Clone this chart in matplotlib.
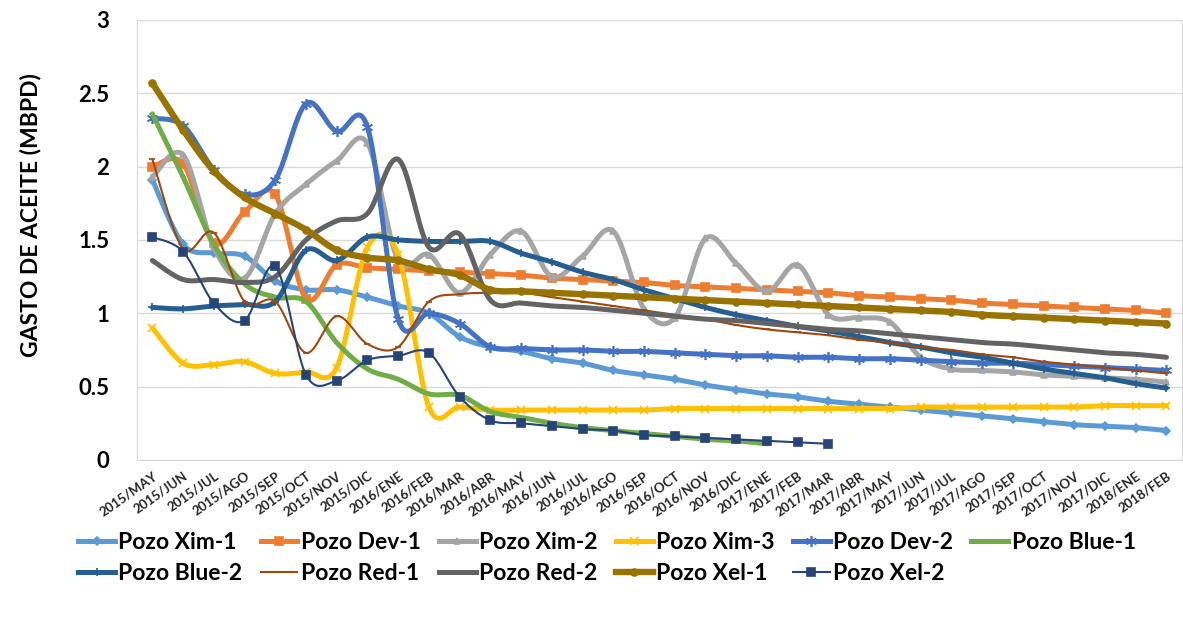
import numpy as np
import matplotlib.pyplot as plt
from matplotlib.lines import Line2D

plt.rcParams['font.family'] = ['Lato', 'DejaVu Sans']

meses = ['2015/MAY', '2015/JUN', '2015/JUL', '2015/AGO', '2015/SEP', '2015/OCT',
         '2015/NOV', '2015/DIC', '2016/ENE', '2016/FEB', '2016/MAR', '2016/ABR',
         '2016/MAY', '2016/JUN', '2016/JUL', '2016/AGO', '2016/SEP', '2016/OCT',
         '2016/NOV', '2016/DIC', '2017/ENE', '2017/FEB', '2017/MAR', '2017/ABR',
         '2017/MAY', '2017/JUN', '2017/JUL', '2017/AGO', '2017/SEP', '2017/OCT',
         '2017/NOV', '2017/DIC', '2018/ENE', '2018/FEB']

nan = np.nan
ximm1 = [1.91, 1.47, 1.41, 1.39, 1.22, 1.16, 1.16, 1.11, 1.05, 1.00, 0.84, 0.77,
         0.74, 0.69, 0.66, 0.61, 0.58, 0.55, 0.51, 0.48, 0.45, 0.43, 0.40, 0.38,
         0.36, 0.34, 0.32, 0.30, 0.28, 0.26, 0.24, 0.23, 0.22, 0.20]
dev1 = [2.00, 2.02, 1.48, 1.69, 1.81, 1.10, 1.33, 1.31, 1.30, 1.29, 1.28, 1.27,
        1.26, 1.24, 1.23, 1.22, 1.21, 1.19, 1.18, 1.17, 1.16, 1.15, 1.14, 1.12,
        1.11, 1.10, 1.09, 1.07, 1.06, 1.05, 1.04, 1.03, 1.02, 1.00]
ximm2 = [1.93, 2.08, 1.45, 1.24, 1.68, 1.88, 2.04, 2.16, 1.36, 1.40, 1.14, 1.40,
         1.56, 1.25, 1.39, 1.56, 1.03, 0.97, 1.51, 1.34, 1.15, 1.33, 0.99, 0.97,
         0.94, 0.70, 0.62, 0.61, 0.60, 0.58, 0.57, 0.56, 0.55, 0.53]
ximm3 = [0.90, 0.66, 0.65, 0.67, 0.59, 0.60, 0.63, 1.45, 1.40, 0.36, 0.36, 0.34,
         0.34, 0.34, 0.34, 0.34, 0.34, 0.35, 0.35, 0.35, 0.35, 0.35, 0.35, 0.35,
         0.35, 0.36, 0.36, 0.36, 0.36, 0.36, 0.36, 0.37, 0.37, 0.37]
dev2 = [2.33, 2.28, 1.98, 1.81, 1.91, 2.43, 2.24, 2.27, 0.96, 1.00, 0.93, 0.77,
        0.76, 0.75, 0.75, 0.74, 0.74, 0.73, 0.72, 0.71, 0.71, 0.70, 0.70, 0.69,
        0.69, 0.68, 0.67, 0.66, 0.66, 0.65, 0.64, 0.63, 0.62, 0.61]
blue1 = [2.36, 1.93, 1.47, 1.20, 1.11, 1.08, 0.80, 0.62, 0.55, 0.45, 0.44, 0.33,
         0.29, 0.25, 0.22, 0.20, 0.18, 0.16, 0.14, 0.13, 0.11, nan, nan, nan,
         nan, nan, nan, nan, nan, nan, nan, nan, nan, nan]
blue2 = [1.04, 1.03, 1.05, 1.06, 1.08, 1.43, 1.36, 1.52, 1.50, 1.49, 1.49, 1.49,
         1.41, 1.35, 1.28, 1.23, 1.16, 1.10, 1.04, 0.99, 0.95, 0.91, 0.88, 0.84,
         0.80, 0.77, 0.73, 0.70, 0.66, 0.62, 0.59, 0.56, 0.52, 0.49]
red1 = [2.05, 1.44, 1.55, 1.08, 1.08, 0.73, 0.98, 0.79, 0.77, 1.08, 1.13, 1.14,
        1.14, 1.11, 1.08, 1.05, 1.02, 0.99, 0.96, 0.92, 0.89, 0.87, 0.85, 0.82,
        0.80, 0.77, 0.75, 0.72, 0.70, 0.67, 0.65, 0.63, 0.61, 0.59]
red2 = [1.36, 1.23, 1.23, 1.21, 1.25, 1.50, 1.63, 1.68, 2.05, 1.45, 1.54, 1.09,
        1.07, 1.05, 1.04, 1.02, 1.00, 0.98, 0.96, 0.95, 0.93, 0.91, 0.89, 0.88,
        0.86, 0.84, 0.82, 0.80, 0.79, 0.77, 0.75, 0.73, 0.72, 0.70]
xel1 = [2.57, 2.25, 1.97, 1.79, 1.68, 1.57, 1.43, 1.38, 1.36, 1.30, 1.26, 1.16,
        1.15, 1.14, 1.13, 1.12, 1.11, 1.10, 1.09, 1.08, 1.07, 1.06, 1.05, 1.04,
        1.03, 1.02, 1.01, 0.99, 0.98, 0.97, 0.96, 0.95, 0.94, 0.93]
xel2 = [1.52, 1.42, 1.07, 0.95, 1.32, 0.58, 0.54, 0.68, 0.71, 0.73, 0.43, 0.27,
        0.25, 0.23, 0.21, 0.20, 0.17, 0.16, 0.15, 0.14, 0.13, 0.12, 0.11, nan,
        nan, nan, nan, nan, nan, nan, nan, nan, nan, nan]

# nombre, datos, color, grosor, marcador, tamaño de marcador
series = [
    ('Pozo Xim-1', ximm1, '#5B9BD5', 3.6, 'D', 4),
    ('Pozo Dev-1', dev1, '#ED7D31', 3.6, 's', 5.5),
    ('Pozo Xim-2', ximm2, '#A5A5A5', 3.6, '^', 5),
    ('Pozo Xim-3', ximm3, '#FFC000', 3.6, 'x', 5.5),
    ('Pozo Dev-2', dev2, '#4472C4', 3.6, (6, 2, 0), 8),
    ('Pozo Blue-1', blue1, '#70AD47', 3.6, '_', 5),
    ('Pozo Blue-2', blue2, '#255E91', 3.6, '+', 6),
    ('Pozo Red-1', red1, '#9E480E', 1.5, '_', 5),
    ('Pozo Red-2', red2, '#636363', 3.6, None, 0),
    ('Pozo Xel-1', xel1, '#997300', 4.6, 'o', 5),
    ('Pozo Xel-2', xel2, '#264478', 1.5, 's', 6),
]


def suavizar(x, y, n=20):
    # curva tipo Catmull-Rom (bezier con puntos de control a 1/6)
    x = np.asarray(x, float)
    y = np.asarray(y, float)
    px, py = [], []
    for i in range(len(x) - 1):
        i0 = max(i - 1, 0)
        i3 = min(i + 2, len(x) - 1)
        c1x = x[i] + (x[i + 1] - x[i0]) / 6
        c1y = y[i] + (y[i + 1] - y[i0]) / 6
        c2x = x[i + 1] - (x[i3] - x[i]) / 6
        c2y = y[i + 1] - (y[i3] - y[i]) / 6
        t = np.linspace(0, 1, n)
        a, b, c, d = (1 - t) ** 3, 3 * (1 - t) ** 2 * t, 3 * (1 - t) * t ** 2, t ** 3
        px.append(a * x[i] + b * c1x + c * c2x + d * x[i + 1])
        py.append(a * y[i] + b * c1y + c * c2y + d * y[i + 1])
    return np.concatenate(px), np.concatenate(py)


fig = plt.figure(figsize=(11.83, 6.19), dpi=100)
ax = fig.add_axes([0.1158, 0.257, 0.8832, 0.7107])

handles = []
idx = np.arange(len(meses))
for k, (nombre, datos, color, lw, mk, ms) in enumerate(series):
    d = np.array(datos, float)
    ok = ~np.isnan(d)
    sx, sy = suavizar(idx[ok], d[ok])
    ax.plot(sx, sy, color=color, lw=lw, solid_capstyle='round', zorder=2 + k)
    if mk is not None:
        ax.plot(idx[ok], d[ok], ls='none', marker=mk, ms=ms, color=color,
                mec=color, mew=1.2, zorder=2 + k)
    handles.append(Line2D([], [], color=color, lw=lw, marker=mk, ms=ms,
                          mec=color, mew=1.2))

ax.set_xlim(-0.5, len(meses) - 0.5)
ax.set_ylim(0, 3)
ax.set_yticks(np.arange(0, 3.01, 0.5))
ax.set_yticklabels(['0', '0.5', '1', '1.5', '2', '2.5', '3'],
                   fontsize=16, fontweight='bold')
ax.set_xticks(idx)
ax.set_xticklabels(meses, rotation=35, ha='right', rotation_mode='anchor',
                   fontsize=9.5, fontweight='bold', color='#262626')
ax.tick_params(axis='both', length=0)
ax.tick_params(axis='y', pad=20)
ax.tick_params(axis='x', pad=7)
ax.grid(axis='y', color='#D9D9D9', lw=1)
ax.set_axisbelow(True)
for s in ax.spines.values():
    s.set_color('#D9D9D9')

fig.text(0.026, 1 - 215 / 619, 'GASTO DE ACEITE (MBPD)', rotation=90,
         ha='center', va='center', fontsize=16.5, fontweight='bold')

# leyenda en dos filas (orden por filas)
orden = [0, 6, 1, 7, 2, 8, 3, 9, 4, 10, 5]
ley = fig.legend([handles[i] for i in orden], [series[i][0] for i in orden],
                 ncol=6, loc='center', bbox_to_anchor=(0.513, 1 - 558 / 619),
                 frameon=False, prop={'size': 16.5, 'weight': 'bold'},
                 handlelength=1.6, handletextpad=0.15, columnspacing=0.8,
                 labelspacing=0.45)

fig.savefig('out.png', dpi=100)
